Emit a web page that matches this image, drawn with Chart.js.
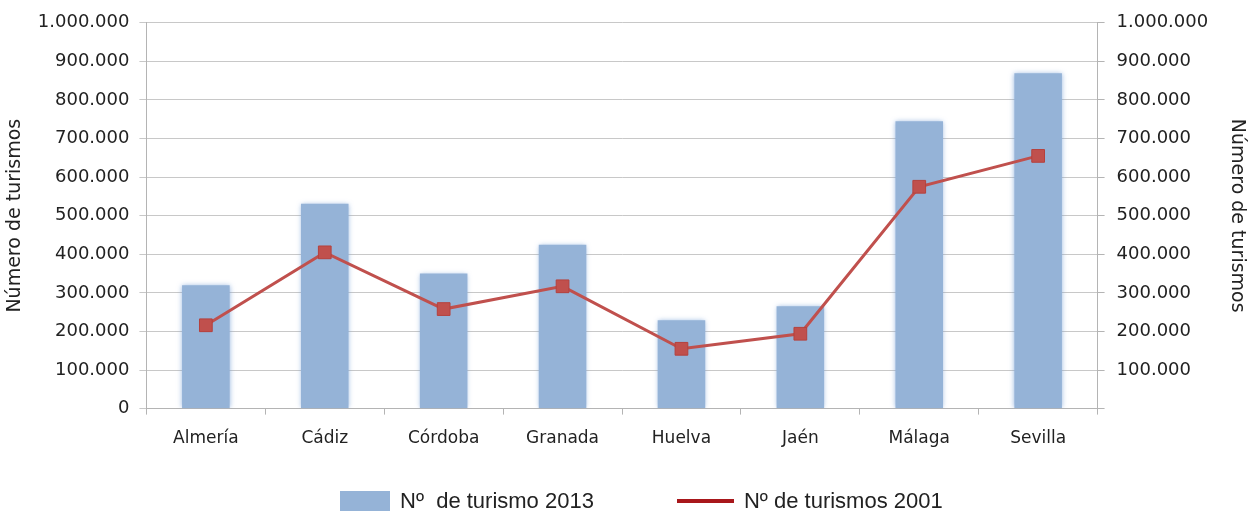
<!DOCTYPE html>
<html>
<head>
<meta charset="utf-8">
<script src="https://cdn.jsdelivr.net/npm/chart.js@4"></script>
<style>
  html, body { margin: 0; padding: 0; background: #fff; }
  #wrap { position: relative; width: 1250px; height: 512px; }
  #legend {
    position: absolute; left: 340px; top: 488px;
    display: flex; align-items: center;
    font-family: "Liberation Sans", Arial, sans-serif; font-size: 22px; color: #222;
    white-space: pre;
  }
  #legend .item { display: flex; align-items: center; }
  #legend .box { width: 50px; height: 20px; margin-right: 10px; }
  #legend .line { width: 57px; height: 4px; margin-right: 10px; }
</style>
</head>
<body>
<div id="wrap">
  <canvas id="chart" width="1250" height="512"></canvas>
  <div id="legend"></div>
</div>
<script>
// Provinces of Andalucía and the two series (number of cars).
const provincias = ["Almería", "Cádiz", "Córdoba", "Granada", "Huelva", "Jaén", "Málaga", "Sevilla"];
const turismos2013 = [320000, 531000, 350000, 425000, 229000, 265000, 745000, 869000];
const turismos2001 = [216000, 405000, 258000, 317000, 155000, 194000, 575000, 655000];

const label2013 = "Nº  de turismo 2013";
const label2001 = "Nº de turismos 2001";
const axisTitle = "Número de turismos";

const yMin = 0;
const yMax = 1000000;
const yStep = 100000;

const TEXT = "#222222";
const GRID = "#c8c8c8";
const AXIS = "#b4b4b4";
const FONT = "'DejaVu Sans', sans-serif";
const BAR_COLOR = "#95b3d7";
const LINE_COLOR = "#c0504d";
const LEGEND_LINE = "#a8171b";

// "1.000.000" style thousands separator
function fmt(v) {
  return Math.round(v).toString().replace(/\B(?=(\d{3})+(?!\d))/g, ".");
}

// Soft glow round the bars, like the original picture.
const barGlow = {
  id: "barGlow",
  beforeDatasetDraw(chart, args) {
    if (args.index !== 0) return;
    const ctx = chart.ctx;
    ctx.save();
    ctx.shadowColor = "rgba(120, 160, 215, 0.75)";
    ctx.shadowBlur = 5;
  },
  afterDatasetDraw(chart, args) {
    if (args.index !== 0) return;
    chart.ctx.restore();
  },
};

const ctx = document.getElementById("chart").getContext("2d");

const chart = new Chart(ctx, {
  data: {
    labels: provincias,
    datasets: [
      {
        type: "bar",
        label: label2013,
        data: turismos2013,
        backgroundColor: BAR_COLOR,
        borderWidth: 0,
        barPercentage: 0.4,
        categoryPercentage: 1,
        yAxisID: "y",
        order: 2,
      },
      {
        type: "line",
        label: label2001,
        data: turismos2001,
        borderColor: LINE_COLOR,
        backgroundColor: LINE_COLOR,
        borderWidth: 3,
        pointStyle: "rect",
        pointRadius: 9,
        pointBorderWidth: 1,
        pointBorderColor: "#b5403d",
        tension: 0,
        yAxisID: "y1",
        order: 1,
      },
    ],
  },
  options: {
    responsive: false,
    animation: false,
    layout: { padding: { top: 9, left: 2, right: 1, bottom: 49 } },
    plugins: {
      tooltip: { enabled: false },
      legend: { display: false },
    },
    scales: {
      x: {
        grid: {
          offset: true,
          drawOnChartArea: false,
          tickLength: 6,
          color: AXIS,
        },
        border: { color: AXIS },
        ticks: {
          color: TEXT,
          font: { family: FONT, size: 17 },
          padding: 14,
        },
      },
      y: {
        position: "left",
        min: yMin,
        max: yMax,
        grid: { color: GRID, tickLength: 7 },
        border: { color: AXIS },
        ticks: {
          stepSize: yStep,
          color: TEXT,
          font: { family: FONT, size: 18 },
          padding: 10,
          callback: (v) => fmt(v),
        },
        title: {
          display: true,
          text: axisTitle,
          color: TEXT,
          font: { family: FONT, size: 19 },
          padding: { top: 2, bottom: 1 },
        },
      },
      y1: {
        position: "right",
        min: yMin,
        max: yMax,
        grid: { drawOnChartArea: false, color: AXIS, tickLength: 7 },
        border: { color: AXIS },
        ticks: {
          stepSize: yStep,
          color: TEXT,
          font: { family: FONT, size: 18 },
          padding: 12,
          callback: (v) => (v === 0 ? "" : fmt(v)),
        },
        title: {
          display: true,
          text: axisTitle,
          color: TEXT,
          font: { family: FONT, size: 19 },
          padding: { top: 1, bottom: 5 },
        },
      },
    },
  },
  plugins: [barGlow],
});

// Legend below the chart, built from the datasets.
const legendEl = document.getElementById("legend");
chart.data.datasets.forEach((ds, i) => {
  const item = document.createElement("div");
  item.className = "item";
  if (i > 0) item.style.marginLeft = "83px";
  const swatch = document.createElement("span");
  swatch.className = ds.type === "bar" ? "box" : "line";
  swatch.style.background = ds.type === "bar" ? ds.backgroundColor : LEGEND_LINE;
  const text = document.createElement("span");
  text.textContent = ds.label;
  item.appendChild(swatch);
  item.appendChild(text);
  legendEl.appendChild(item);
});
</script>
</body>
</html>
